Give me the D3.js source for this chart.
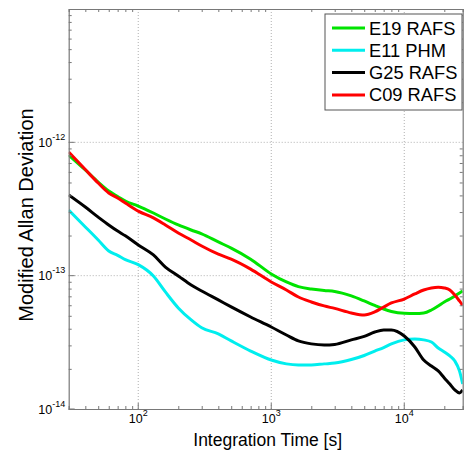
<!DOCTYPE html>
<html>
<head>
<meta charset="utf-8">
<script src="https://cdnjs.cloudflare.com/ajax/libs/d3/7.8.5/d3.min.js"></script>
<style>
  body { margin: 0; background: #fff; }
  text { font-family: Arial, "Liberation Sans", sans-serif; fill: #000; }
</style>
</head>
<body>
<div id="chart"></div>
<script>
var svgWidth = 464;
var svgHeight = 456;

var margin = {
  top: 9,
  right: 1.3,
  bottom: 47,
  left: 68.7
};

var width = svgWidth - margin.left - margin.right;
var height = svgHeight - margin.top - margin.bottom;

// averaging times [s]
var tau = [30, 40, 50, 60, 70, 80, 100, 130, 160, 200, 250, 300, 400, 500, 700,
  1000, 1300, 1600, 2000, 2500, 3000, 4000, 5000, 6000, 7000, 8000,
  10000, 12000, 14000, 16000, 18000, 20000, 22000, 24000, 26000, 27500];

// modified allan deviation
var e19 = [8.03e-13, 6.20e-13, 5.04e-13, 4.31e-13, 3.93e-13, 3.63e-13, 3.33e-13, 2.95e-13,
  2.66e-13, 2.40e-13, 2.20e-13, 2.06e-13, 1.79e-13, 1.61e-13, 1.33e-13, 1.03e-13,
  8.97e-14, 8.27e-14, 7.94e-14, 7.74e-14, 7.61e-14, 7.05e-14, 6.46e-14, 5.98e-14,
  5.62e-14, 5.39e-14, 5.22e-14, 5.20e-14, 5.25e-14, 5.53e-14, 5.93e-14, 6.35e-14,
  6.68e-14, 7.05e-14, 7.41e-14, 7.67e-14];

var e11 = [3.10e-13, 2.32e-13, 1.85e-13, 1.53e-13, 1.42e-13, 1.32e-13, 1.21e-13, 9.95e-14,
  7.55e-14, 5.73e-14, 4.66e-14, 4.07e-14, 3.66e-14, 3.24e-14, 2.72e-14, 2.33e-14,
  2.18e-14, 2.14e-14, 2.14e-14, 2.18e-14, 2.21e-14, 2.35e-14, 2.52e-14, 2.72e-14,
  2.89e-14, 3.08e-14, 3.30e-14, 3.35e-14, 3.30e-14, 3.18e-14, 2.87e-14, 2.68e-14,
  2.50e-14, 2.29e-14, 1.93e-14, 1.54e-14];

var g25 = [4.03e-13, 3.27e-13, 2.75e-13, 2.40e-13, 2.16e-13, 1.99e-13, 1.70e-13, 1.43e-13,
  1.16e-13, 9.95e-14, 8.51e-14, 7.67e-14, 6.58e-14, 5.83e-14, 4.90e-14, 4.12e-14,
  3.59e-14, 3.24e-14, 3.08e-14, 3.02e-14, 3.05e-14, 3.30e-14, 3.50e-14, 3.78e-14,
  3.92e-14, 3.92e-14, 3.53e-14, 2.92e-14, 2.33e-14, 2.10e-14, 1.93e-14, 1.71e-14,
  1.54e-14, 1.39e-14, 1.32e-14, 1.39e-14];

var c09 = [8.46e-13, 6.25e-13, 4.95e-13, 4.17e-13, 3.82e-13, 3.51e-13, 3.05e-13, 2.71e-13,
  2.40e-13, 2.09e-13, 1.85e-13, 1.67e-13, 1.45e-13, 1.33e-13, 1.12e-13, 8.97e-14,
  7.81e-14, 6.92e-14, 6.35e-14, 5.93e-14, 5.68e-14, 5.25e-14, 5.07e-14, 5.35e-14,
  5.82e-14, 6.24e-14, 6.68e-14, 7.29e-14, 7.81e-14, 8.09e-14, 8.19e-14, 8.09e-14,
  7.81e-14, 7.16e-14, 6.46e-14, 5.98e-14];

var seriesNames = ["E19 RAFS", "E11 PHM", "G25 RAFS", "C09 RAFS"];
var seriesColors = ["#00e400", "#00eeee", "#000000", "#ff0000"];
var seriesValues = [e19, e11, g25, c09];

// tick labels (powers of ten)
var xTickExp = [2, 3, 4];
var yTickExp = [-14, -13, -12];

var svg = d3.select("#chart")
  .append("svg")
  .attr("width", svgWidth)
  .attr("height", svgHeight);

var chartGroup = svg.append("g")
  .attr("transform", `translate(${margin.left}, ${margin.top})`);

var xLogScale = d3.scaleLog()
  .domain([30, 27500])
  .range([0, width]);

var yLogScale = d3.scaleLog()
  .domain([1e-14, 1e-11])
  .range([height, 0]);

// minor tick positions (2..9 per decade)
var xMinor = [];
var yMinor = [];
[1, 2, 3, 4].forEach(function(p) {
  for (var k = 2; k <= 9; k++) {
    var v = k * Math.pow(10, p);
    if (v > 30 && v < 27500) xMinor.push(v);
  }
});
[-14, -13, -12].forEach(function(p) {
  for (var k = 2; k <= 9; k++) yMinor.push(k * Math.pow(10, p));
});
var xMajor = xTickExp.map(e => Math.pow(10, e));
var yMajor = yTickExp.map(e => Math.pow(10, e));

// dotted grid at decades
chartGroup.selectAll(".xgrid")
  .data(xMajor)
  .enter()
  .append("line")
  .attr("x1", d => xLogScale(d))
  .attr("x2", d => xLogScale(d))
  .attr("y1", 0)
  .attr("y2", height)
  .attr("stroke", "#b0b0b0")
  .attr("stroke-width", 1)
  .attr("stroke-dasharray", "1,2");

chartGroup.selectAll(".ygrid")
  .data(yMajor.slice(1))
  .enter()
  .append("line")
  .attr("x1", 0)
  .attr("x2", width)
  .attr("y1", d => yLogScale(d))
  .attr("y2", d => yLogScale(d))
  .attr("stroke", "#b0b0b0")
  .attr("stroke-width", 1)
  .attr("stroke-dasharray", "1,2");

// curves
svg.append("defs").append("clipPath")
  .attr("id", "plotClip")
  .append("rect")
  .attr("width", width)
  .attr("height", height);

var line = d3.line()
  .x((d, i) => xLogScale(tau[i]))
  .y(d => yLogScale(d))
  .curve(d3.curveMonotoneX);

chartGroup.append("g")
  .attr("clip-path", "url(#plotClip)")
  .selectAll("path")
  .data(seriesValues)
  .enter()
  .append("path")
  .attr("d", d => line(d))
  .attr("fill", "none")
  .attr("stroke", (d, i) => seriesColors[i])
  .attr("stroke-width", 3)
  .attr("stroke-linejoin", "round");

// axes box with inward ticks (matlab style)
var axisColor = "#787878";

var bottomAxis = d3.axisBottom(xLogScale).tickValues(xMinor).tickSize(-3).tickFormat("");
var topAxis = d3.axisTop(xLogScale).tickValues(xMinor).tickSize(-3).tickFormat("");
var leftAxis = d3.axisLeft(yLogScale).tickValues(yMinor).tickSize(-3).tickFormat("");
var rightAxis = d3.axisRight(yLogScale).tickValues(yMinor).tickSize(-3).tickFormat("");

var xAxis = chartGroup.append("g")
  .attr("transform", `translate(0, ${height})`)
  .call(bottomAxis);
var xAxisTop = chartGroup.append("g")
  .call(topAxis);
var yAxis = chartGroup.append("g")
  .call(leftAxis);
var yAxisRight = chartGroup.append("g")
  .attr("transform", `translate(${width}, 0)`)
  .call(rightAxis);

[xAxis, xAxisTop, yAxis, yAxisRight].forEach(function(g) {
  g.select(".domain").attr("stroke", axisColor).attr("stroke-width", 1.2);
  g.selectAll(".tick line").attr("stroke", axisColor);
});

// major tick marks
chartGroup.selectAll(".xmaj")
  .data(xMajor)
  .enter()
  .append("line")
  .attr("x1", d => xLogScale(d))
  .attr("x2", d => xLogScale(d))
  .attr("y1", height)
  .attr("y2", height - 6)
  .attr("stroke", axisColor);

chartGroup.selectAll(".ymaj")
  .data(yMajor)
  .enter()
  .append("line")
  .attr("x1", 0)
  .attr("x2", 6)
  .attr("y1", d => yLogScale(d))
  .attr("y2", d => yLogScale(d))
  .attr("stroke", axisColor);

// tick labels 10^n
chartGroup.selectAll(".xlab")
  .data(xTickExp)
  .enter()
  .append("text")
  .attr("x", d => xLogScale(Math.pow(10, d)))
  .attr("y", height + 13.5)
  .attr("text-anchor", "middle")
  .attr("font-size", 12.5)
  .each(function(d) {
    var t = d3.select(this);
    t.append("tspan").text("10");
    t.append("tspan").attr("dy", -7).attr("font-size", 9).text(d);
  });

chartGroup.selectAll(".ylab")
  .data(yTickExp)
  .enter()
  .append("text")
  .attr("x", -3.5)
  .attr("y", d => yLogScale(Math.pow(10, d)) + 4.5)
  .attr("text-anchor", "end")
  .attr("font-size", 12.5)
  .each(function(d) {
    var t = d3.select(this);
    t.append("tspan").text("10");
    t.append("tspan").attr("dy", -7).attr("font-size", 9).text(d);
  });

// axis titles
chartGroup.append("text")
  .attr("x", width / 2 + 2)
  .attr("y", height + 37)
  .attr("text-anchor", "middle")
  .attr("font-size", 17.5)
  .text("Integration Time [s]");

chartGroup.append("text")
  .attr("transform", "rotate(-90)")
  .attr("x", -(height / 2) - 6)
  .attr("y", -36)
  .attr("text-anchor", "middle")
  .attr("font-size", 20)
  .text("Modified Allan Deviation");

// legend
var legend = svg.append("g")
  .attr("transform", "translate(325, 14)");

legend.append("rect")
  .attr("width", 137)
  .attr("height", 96)
  .attr("fill", "#fff")
  .attr("stroke", "#555")
  .attr("stroke-width", 1);

var legendRows = legend.selectAll(".row")
  .data(seriesNames)
  .enter()
  .append("g")
  .attr("transform", (d, i) => `translate(0, ${14 + i * 22.3})`);

legendRows.append("line")
  .attr("x1", 7)
  .attr("x2", 40)
  .attr("stroke", (d, i) => seriesColors[i])
  .attr("stroke-width", 3);

legendRows.append("text")
  .attr("x", 44)
  .attr("y", 6.5)
  .attr("font-size", 18.3)
  .text(d => d);
</script>
</body>
</html>
